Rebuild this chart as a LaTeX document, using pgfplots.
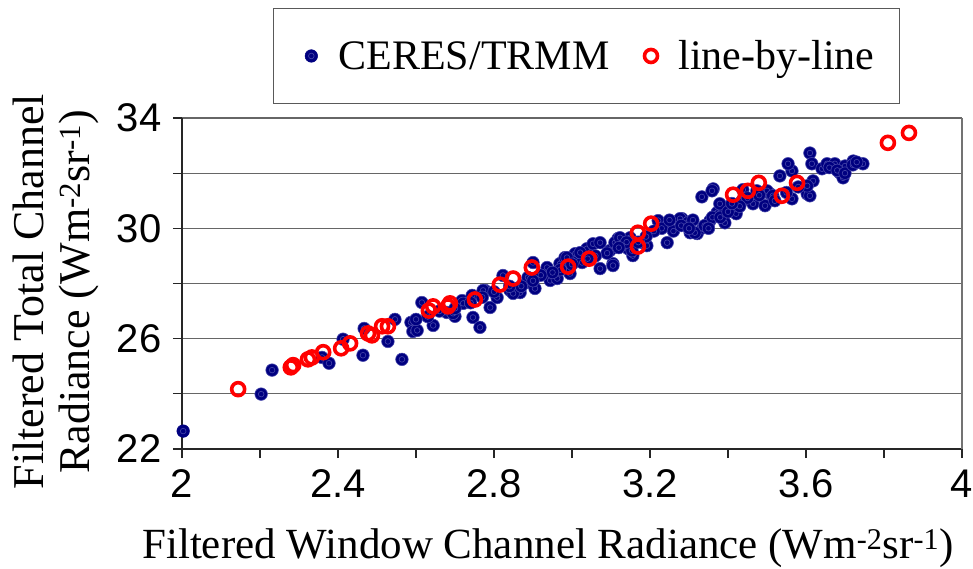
\documentclass[border=0pt]{standalone}
\usepackage{pgfplots}
\pgfplotsset{compat=1.18}
\usepackage{fontspec}
\setmainfont{Liberation Serif}
\newfontfamily\arial{Liberation Sans}
\definecolor{ceres}{RGB}{0,0,128}
\definecolor{ceresring}{RGB}{70,70,170}
\definecolor{lbl}{RGB}{255,0,0}

% filled dot with a faint inner ring, like the original markers
\pgfdeclareplotmark{ringdot}{%
  \pgfpathcircle{\pgfpointorigin}{\pgfplotmarksize}%
  \pgfusepathqfillstroke
  \pgfsetlinewidth{0.6pt}%
  \pgfsetstrokecolor{ceresring}%
  \pgfpathcircle{\pgfpointorigin}{0.45\pgfplotmarksize}%
  \pgfusepathqstroke}

\begin{document}
\begin{tikzpicture}
\begin{axis}[
    scale only axis,
    width=780pt, height=331pt,
    xmin=2, xmax=4, ymin=22, ymax=34,
    axis lines*=left,
    axis line style={line width=1.6pt, black!85},
    clip=false,
    xtick={2,2.2,2.4,2.6,2.8,3,3.2,3.4,3.6,3.8,4},
    xticklabels={2,,2.4,,2.8,,3.2,,3.6,,4},
    ytick={22,24,26,28,30,32,34},
    yticklabels={22,,26,,30,,34},
    tick align=outside,
    major tick length=9pt,
    tick style={line width=1.2pt, black!85},
    ymajorgrids,
    major grid style={line width=1.3pt, black!60},
    /pgf/number format/assume math mode=true,
    ticklabel style={font=\arial\fontsize{40}{40}\selectfont},
    xticklabel style={yshift=-8pt},
    yticklabel style={xshift=-8pt},
    xlabel={Filtered Window Channel Radiance (Wm\textsuperscript{-2}sr\textsuperscript{-1})},
    ylabel={Filtered Total Channel\\Radiance (Wm\textsuperscript{-2}sr\textsuperscript{-1})},
    every axis x label/.style={at={(axis description cs:0.469,-0.299)}, anchor=center,
        font=\fontsize{43}{46}\selectfont},
    every axis y label/.style={at={(axis description cs:-0.162,0.475)}, anchor=center,
        rotate=90, align=center, font=\fontsize{44}{46}\selectfont},
    legend columns=2,
    legend style={at={(axis description cs:0.1167,1.3323)}, anchor=north west,
        draw=black!65, line width=1.3pt, font=\fontsize{42}{42}\selectfont,
        inner xsep=25pt, inner ysep=32pt,
        nodes={inner sep=0pt},
        /tikz/every odd column/.append style={column sep=21pt},
        /tikz/every even column/.append style={column sep=29pt}},
    legend cell align=left,
    legend image code/.code={\path (-12pt,0pt); \draw[#1] plot coordinates {(0pt,0pt)};},
]
\addplot[only marks, mark=ringdot, mark size=6.3pt, mark options={fill=ceres, draw=ceres, line width=0.5pt}]
coordinates {
(2.003,22.65) (2.203,23.99) (2.231,24.86) (2.359,25.32) (2.377,25.11)
(2.413,25.98) (2.464,25.40) (2.467,26.37) (2.528,25.90) (2.546,26.70)
(2.564,25.25) (2.587,26.59) (2.592,26.26) (2.603,26.30) (2.615,27.31)
(2.644,26.48) (2.679,26.95) (2.700,26.81) (2.718,27.38) (2.744,27.57)
(2.746,26.77) (2.764,26.41) (2.777,27.75) (2.790,27.13) (2.808,27.49)
(2.823,28.29) (2.841,27.75) (2.859,27.82) (2.885,28.04) (2.887,28.22)
(2.905,27.82) (2.900,28.76) (2.936,28.58) (2.944,28.11) (2.962,28.18)
(2.969,28.72) (2.982,28.94) (2.995,28.36) (3.008,29.08) (3.026,28.76)
(3.038,29.26) (3.054,29.44) (3.072,28.54) (3.072,29.48) (3.105,28.72)
(3.097,29.19) (3.118,29.63) (3.131,29.37) (3.144,29.26) (3.149,29.66)
(3.105,28.65) (3.110,29.48) (3.123,29.66) (3.156,29.01) (3.182,29.48)
(3.221,30.28) (3.246,30.10) (3.282,30.35) (3.290,30.17) (3.303,29.84)
(3.321,29.81) (3.336,30.02) (3.354,30.28) (3.362,31.43) (3.333,31.14)
(3.372,30.57) (3.379,30.89) (3.392,30.20) (3.421,30.53) (3.436,31.00)
(3.464,30.89) (3.495,30.82) (3.508,31.25) (3.533,31.90) (3.564,32.08)
(3.564,31.07) (3.603,31.25) (3.610,32.73) (3.615,32.34) (3.554,32.34)
(3.618,31.72) (3.610,31.18) (3.641,32.16) (3.654,32.34) (3.674,32.34)
(3.687,32.01) (3.695,31.83) (3.700,32.26) (3.721,32.44) (3.746,32.34)
(3.603,31.54) (3.359,31.36) (3.438,31.40) (3.474,31.36) (3.500,31.36)
(3.515,31.18) (3.277,30.35) (3.297,30.20) (3.315,29.84) (3.244,29.48)
(3.192,29.37) (3.154,29.19) (3.021,29.12) (2.721,27.28) (2.695,26.92)
(2.867,27.67) (2.849,27.64) (2.772,27.75) (2.987,28.94)
(3.23,30.00) (3.26,29.90) (3.28,30.10) (3.31,30.30) (3.34,30.10)
(3.36,30.40) (3.38,30.40) (3.40,30.60) (3.35,30.00) (3.30,30.00)
(3.25,30.30) (3.21,29.90) (3.19,29.70) (3.17,29.50) (3.14,29.50)
(3.12,29.30) (3.09,29.10) (3.06,29.00) (3.04,28.90) (3.00,28.70)
(2.97,28.50) (2.95,28.40) (2.92,28.30) (2.90,28.10) (2.87,27.90)
(2.84,27.90) (2.80,27.70) (2.77,27.50) (2.74,27.30) (2.70,27.10)
(2.66,27.00) (2.63,26.80) (2.60,26.70) (3.45,31.10) (3.48,31.20)
(3.52,31.00) (3.55,31.30) (3.58,31.50) (3.66,32.20) (3.68,32.10)
(3.70,32.00) (3.72,32.30) (3.73,32.40) (3.43,30.80) (3.41,30.90)
};
\addlegendentry{CERES/TRMM}
\addplot[only marks, mark=o, mark size=6.5pt, mark options={draw=lbl, fill=white, line width=3.6pt}]
coordinates {
(2.144,24.17) (2.279,24.96) (2.285,25.04) (2.323,25.25) (2.333,25.32)
(2.362,25.51) (2.408,25.65) (2.431,25.83) (2.477,26.19) (2.487,26.12)
(2.513,26.45) (2.528,26.45) (2.633,27.02) (2.644,27.17) (2.682,27.17)
(2.687,27.28) (2.751,27.42) (2.815,27.96) (2.849,28.18) (2.897,28.58)
(2.990,28.61) (3.044,28.90) (3.169,29.84) (3.203,30.17) (3.169,29.34)
(3.413,31.22) (3.451,31.36) (3.479,31.65) (3.538,31.18) (3.577,31.65)
(3.810,33.10) (3.864,33.46)
};
\addlegendentry{line-by-line}
\draw[line width=1.3pt, black!55] (rel axis cs:1,0) -- (rel axis cs:1,1);
\end{axis}
\pgfresetboundingbox
\useasboundingbox (-182pt,-119pt) rectangle (791pt,449pt);
\end{tikzpicture}
\end{document}
